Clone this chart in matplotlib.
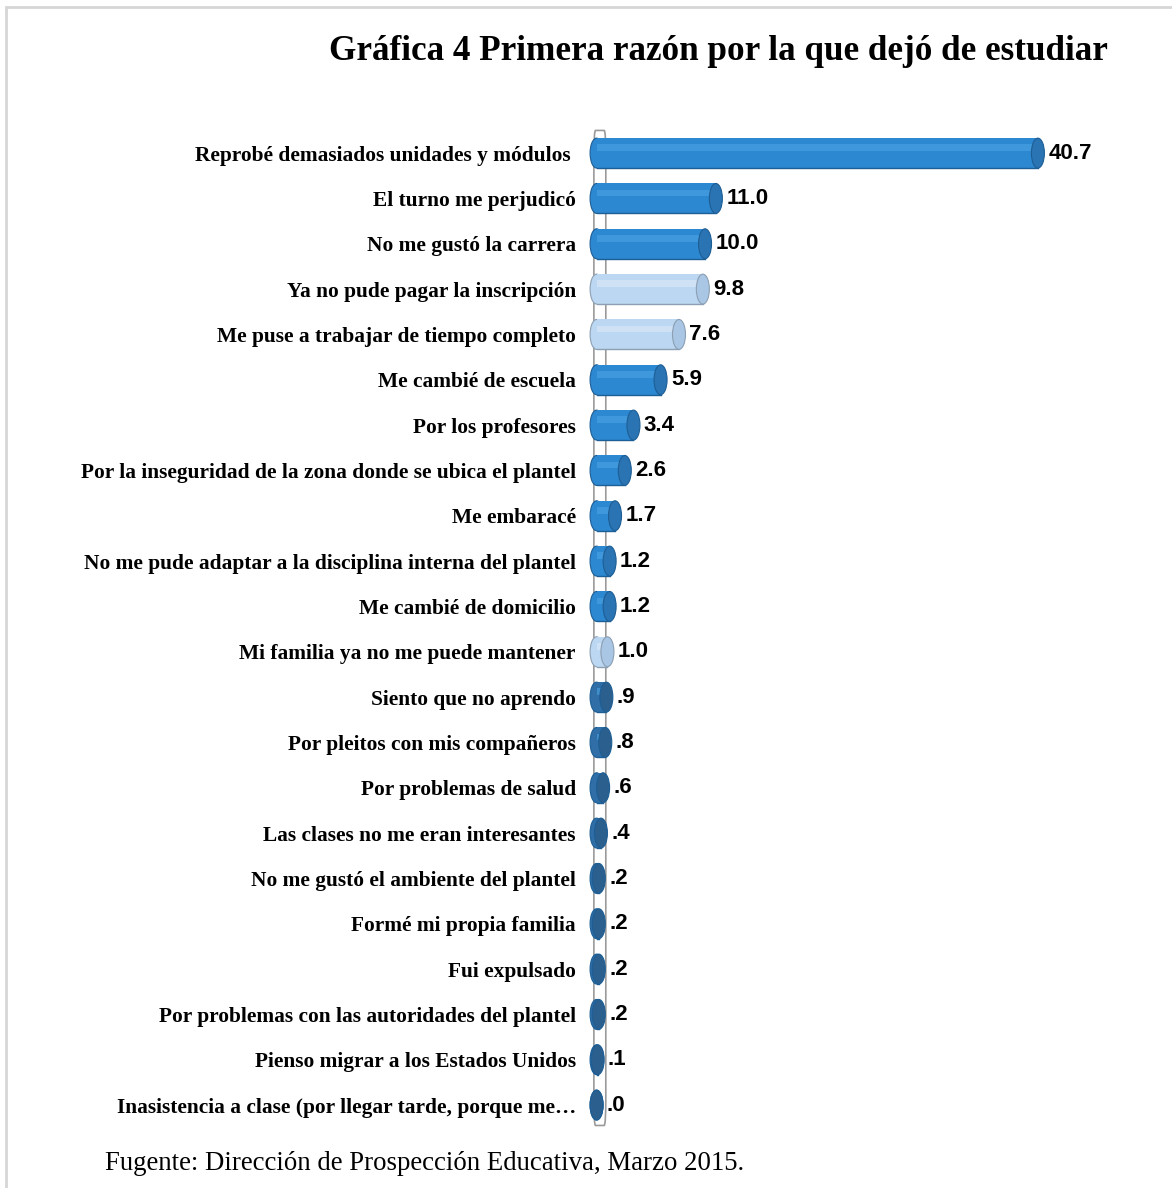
import matplotlib.pyplot as plt
from matplotlib.patches import Ellipse, Rectangle, FancyBboxPatch

razones = [
    "Reprobé demasiados unidades y módulos ",
    "El turno me perjudicó",
    "No me gustó la carrera",
    "Ya no pude pagar la inscripción",
    "Me puse a trabajar de tiempo completo",
    "Me cambié de escuela",
    "Por los profesores",
    "Por la inseguridad de la zona donde se ubica el plantel",
    "Me embaracé",
    "No me pude adaptar a la disciplina interna del plantel",
    "Me cambié de domicilio",
    "Mi familia ya no me puede mantener",
    "Siento que no aprendo",
    "Por pleitos con mis compañeros",
    "Por problemas de salud",
    "Las clases no me eran interesantes",
    "No me gustó el ambiente del plantel",
    "Formé mi propia familia",
    "Fui expulsado",
    "Por problemas con las autoridades del plantel",
    "Pienso migrar a los Estados Unidos",
    "Inasistencia a clase (por llegar tarde, porque me…",
]
porcentajes = [40.7, 11.0, 10.0, 9.8, 7.6, 5.9, 3.4, 2.6, 1.7, 1.2, 1.2, 1.0,
               0.9, 0.8, 0.6, 0.4, 0.2, 0.2, 0.2, 0.2, 0.1, 0.0]
etiquetas = ["40.7", "11.0", "10.0", "9.8", "7.6", "5.9", "3.4", "2.6", "1.7", "1.2",
             "1.2", "1.0", ".9", ".8", ".6", ".4", ".2", ".2", ".2", ".2", ".1", ".0"]
claras = [3, 4, 11]

W, H = 1172, 1188
fig = plt.figure(figsize=(W / 100, H / 100), dpi=100)
fig.patches.append(Rectangle((6 / W, -0.1), 1.2, 1.1 - 7 / H, transform=fig.transFigure,
                             fill=False, edgecolor="#d6d6d6", lw=2))

ax = fig.add_axes([580 / W, 1 - 1130 / H, (1110 - 580) / W, (1130 - 125) / H])
ax.set_xlim(-1.48, 47.4)
ax.set_ylim(21.55, -0.62)
for s in ax.spines.values():
    s.set_visible(False)
ax.set_xticks([])

# pared del eje
ax.add_patch(FancyBboxPatch((-0.2, -0.5), 1.1, 21.95, boxstyle="round,pad=0,rounding_size=0.15",
                            facecolor="white", edgecolor="#9a9a9a", lw=1.2, zorder=1,
                            mutation_aspect=4))

alto = 0.66
cap = 1.2
for i, v in enumerate(porcentajes):
    if i in claras:
        cara, borde, brillo, tapa = "#bcd7f1", "#8c9fb3", "#dcebf9", "#a9c6e4"
    else:
        cara, borde, brillo, tapa = "#2d88d2", "#1d5e95", "#4ea3e3", "#2a74b3"
    if v < 1.0:
        cara, tapa = "#2f6ea6", "#2a5f8e"
    ax.add_patch(Ellipse((0.05, i), cap, alto, facecolor=cara, edgecolor=borde, lw=0.8, zorder=2))
    ax.barh(i, v, left=0.05, height=alto, color=cara, edgecolor="none", zorder=3)
    ax.barh(i - alto * 0.18, v, left=0.05, height=alto * 0.22, color=brillo, edgecolor="none",
            zorder=3, alpha=0.6)
    ax.plot([0.05, 0.05 + v], [i + alto / 2, i + alto / 2], color=borde, lw=1, zorder=3)
    ax.add_patch(Ellipse((0.05 + v, i), cap, alto, facecolor=tapa, edgecolor=borde, lw=0.8, zorder=4))
    ax.text(0.05 + v + cap / 2 + 0.35, i, etiquetas[i], va="center", ha="left",
            fontsize=16, fontweight="bold", family="Liberation Sans", zorder=5)

ax.set_yticks(range(len(razones)))
ax.set_yticklabels(razones, fontsize=15.4, fontweight="bold", family="Liberation Serif")
ax.tick_params(axis="y", length=0, pad=3)

fig.text(718 / W, 1 - 52 / H, "Gráfica 4 Primera razón por la que dejó de estudiar",
         ha="center", va="center", fontsize=25.3, fontweight="bold", family="Liberation Serif")
fig.text(105 / W, 1 - 1163 / H, "Fugente: Dirección de Prospección Educativa, Marzo 2015.",
         ha="left", va="center", fontsize=19.3, family="Liberation Serif")

fig.savefig("out.png", dpi=100)
